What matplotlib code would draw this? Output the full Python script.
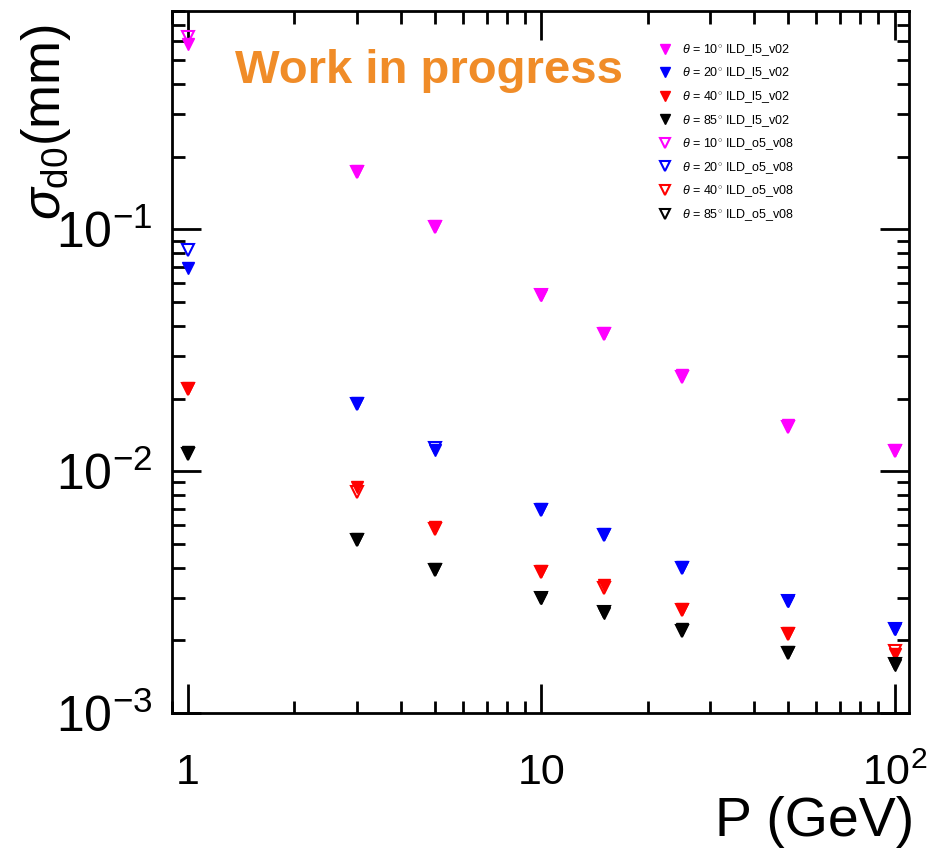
import numpy as np
import matplotlib.pyplot as plt

plt.rcParams['font.family'] = ['Liberation Sans', 'DejaVu Sans']
plt.rcParams['mathtext.fontset'] = 'custom'
plt.rcParams['mathtext.rm'] = 'Liberation Sans'
plt.rcParams['mathtext.it'] = 'Liberation Sans:italic'
plt.rcParams['mathtext.bf'] = 'Liberation Sans:bold'

# momentum points (GeV)
p = [1, 3, 5, 10, 15, 25, 50, 100]

# sigma_d0 (mm), ILD_l5_v02 (filled) and ILD_o5_v08 (open)
v02_10 = [0.586, 0.174, 0.103, 0.0537, 0.0374, 0.0250, 0.0155, 0.0122]
v02_20 = [0.0696, 0.0191, 0.0123, 0.0070, 0.00548, 0.00403, 0.00292, 0.00223]
v02_40 = [0.0221, 0.0086, 0.00586, 0.00388, 0.00340, 0.00270, 0.00215, 0.00176]
v02_85 = [0.0120, 0.00527, 0.00396, 0.00300, 0.00260, 0.00223, 0.00179, 0.00158]

v08_10 = [0.627, 0.172, 0.102, 0.0535, 0.0370, 0.0245, 0.0153, 0.0121]
v08_20 = [0.0826, 0.0190, 0.0125, 0.0069, 0.00545, 0.00400, 0.00290, 0.00222]
v08_40 = [0.0219, 0.0082, 0.00580, 0.00385, 0.00330, 0.00268, 0.00212, 0.00180]
v08_85 = [0.0118, 0.00520, 0.00390, 0.00298, 0.00262, 0.00218, 0.00177, 0.00160]

angles = ['10', '20', '40', '85']
colors = ['#ff00ff', '#0000ff', '#ff0000', '#000000']

fig = plt.figure(figsize=(9.5, 8.5), dpi=100)
ax = fig.add_axes([0.181, 0.161, 0.776, 0.826])

for ys, a, c in zip([v02_10, v02_20, v02_40, v02_85], angles, colors):
    ax.plot(p, ys, 'v', color=c, ms=8, ls='none',
            label=r'$\theta$ = %s$^{\circ}$ ILD_l5_v02' % a)
for ys, a, c in zip([v08_10, v08_20, v08_40, v08_85], angles, colors):
    ax.plot(p, ys, 'v', mfc='none', mec=c, mew=1.5, ms=8, ls='none',
            label=r'$\theta$ = %s$^{\circ}$ ILD_o5_v08' % a)

ax.set_xscale('log')
ax.set_yscale('log')
ax.set_xlim(0.9, 110)
ax.set_ylim(1e-3, 0.8)

ax.set_xticks([1, 10, 100])
ax.set_xticklabels(['1', '10', r'$10^{2}$'])
ax.set_yticks([1e-3, 1e-2, 1e-1])
ax.set_yticklabels([r'$10^{-3}$', r'$10^{-2}$', r'$10^{-1}$'])
ax.xaxis.set_minor_formatter(plt.NullFormatter())
ax.yaxis.set_minor_formatter(plt.NullFormatter())

ax.tick_params(which='both', direction='in', top=True, right=True, width=2)
ax.tick_params(which='major', length=21)
ax.tick_params(which='minor', length=9)
ax.tick_params(axis='x', which='major', labelsize=31, pad=29)
ax.tick_params(axis='y', which='major', labelsize=36, pad=14)
for s in ax.spines.values():
    s.set_linewidth(2)

fig.text(0.962, 0.016, 'P (GeV)', fontsize=40, ha='right', va='baseline')
fig.text(0.048, 0.972, r'$\sigma_{\rm d0}$(mm)', fontsize=38, rotation=90,
         ha='center', va='top')

ax.text(0.085, 0.914, 'Work in progress', transform=ax.transAxes,
        fontsize=34, fontweight='bold', color='#f08c28', va='center')

ax.legend(loc='upper left', bbox_to_anchor=(0.645, 0.972), frameon=False,
          fontsize=9, markerscale=0.9, handlelength=1.0, handletextpad=0.9,
          labelspacing=0.62, numpoints=1)

fig.savefig('out.png', dpi=100)
